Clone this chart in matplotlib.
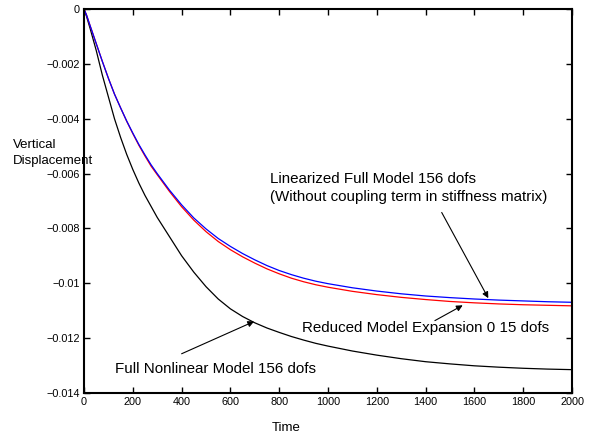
import numpy as np
import matplotlib.pyplot as plt

plt.rcParams['font.family'] = ['Liberation Sans', 'DejaVu Sans']
plt.rcParams['axes.unicode_minus'] = True

# values
time = [0, 10, 25, 50, 75, 100, 125, 150, 175, 200, 225, 250, 275, 300,
        350, 400, 450, 500, 550, 600, 650, 700, 750, 800, 850, 900, 950, 1000,
        1100, 1200, 1300, 1400, 1500, 1600, 1700, 1800, 1900, 2000]
full_nonlinear = [0, -0.00025, -0.0007, -0.0015, -0.0024, -0.0032, -0.0040, -0.00468,
                  -0.0053, -0.00585, -0.00635, -0.0068, -0.0072, -0.0076,
                  -0.0083, -0.0090, -0.0096, -0.01013, -0.01058, -0.01094, -0.01122,
                  -0.01145, -0.01164, -0.0118, -0.01195, -0.01208, -0.0122, -0.0123,
                  -0.01248, -0.01263, -0.01276, -0.01287, -0.01295, -0.01302, -0.01307,
                  -0.01311, -0.01314, -0.01316]
linearized = [0, -0.0002, -0.0006, -0.00125, -0.0019, -0.00252, -0.0031, -0.0036,
              -0.00408, -0.00452, -0.00494, -0.00532, -0.00568, -0.006,
              -0.0066, -0.00714, -0.00762, -0.00802, -0.00837, -0.00866, -0.00892,
              -0.00915, -0.00936, -0.00954, -0.00969, -0.00982, -0.00993, -0.01002,
              -0.01017, -0.01029, -0.01039, -0.01047, -0.01053, -0.01058, -0.01062,
              -0.01065, -0.01068, -0.0107]
reduced = [0, -0.0002, -0.0006, -0.00125, -0.0019, -0.00252, -0.0031, -0.0036,
           -0.00409, -0.00454, -0.00497, -0.00536, -0.00573, -0.00604,
           -0.00665, -0.00721, -0.0077, -0.00812, -0.00848, -0.00878, -0.00904,
           -0.00927, -0.00948, -0.00966, -0.00982, -0.00995, -0.01006, -0.01015,
           -0.0103, -0.01042, -0.01052, -0.0106, -0.01067, -0.01072, -0.01076,
           -0.01079, -0.01081, -0.01083]

xticks = [0, 200, 400, 600, 800, 1000, 1200, 1400, 1600, 1800, 2000]
yticks = [0, -0.002, -0.004, -0.006, -0.008, -0.01, -0.012, -0.014]
ytick_labels = ['0', '\u22120.002', '\u22120.004', '\u22120.006', '\u22120.008',
                '\u22120.01', '\u22120.012', '\u22120.014']

fig = plt.figure(figsize=(5.9, 4.37), dpi=100)
ax = fig.add_axes([0.1424, 0.1015, 0.8271, 0.8772])

ax.plot(time, full_nonlinear, color='black', lw=0.9)
ax.plot(time, reduced, color='red', lw=0.9)
ax.plot(time, linearized, color='blue', lw=0.9)

ax.set_xlim(0, 2000)
ax.set_ylim(-0.014, 0)
ax.set_xticks(xticks)
ax.set_xticklabels([str(t) for t in xticks])
ax.set_yticks(yticks)
ax.set_yticklabels(ytick_labels)
ax.tick_params(direction='in', top=True, right=True, labelsize=7.8,
               length=4, width=1, pad=3)
for s in ax.spines.values():
    s.set_linewidth(1.5)

# texte + fleches
ax.text(762, -0.00652, 'Linearized Full Model 156 dofs\n(Without coupling term in stiffness matrix)',
        fontsize=10.9, ha='left', va='center', linespacing=1.33)
ax.text(892, -0.01163, 'Reduced Model Expansion 0 15 dofs',
        fontsize=10.9, ha='left', va='center')
ax.text(125, -0.01314, 'Full Nonlinear Model 156 dofs',
        fontsize=10.9, ha='left', va='center')

arrow = dict(arrowstyle='-|>', color='black', lw=0.8, mutation_scale=9,
             shrinkA=0, shrinkB=0)
ax.annotate('', xy=(1657, -0.01055), xytext=(1466, -0.00742), arrowprops=arrow)
ax.annotate('', xy=(1552, -0.01081), xytext=(1438, -0.01137), arrowprops=arrow)
ax.annotate('', xy=(697, -0.0114), xytext=(400, -0.01258), arrowprops=arrow)

fig.text(13 / 590, 1 - 153 / 437, 'Vertical\nDisplacement', fontsize=9.5,
         ha='left', va='center', linespacing=1.55)
fig.text(286 / 590, 1 - 428 / 437, 'Time', fontsize=9.5, ha='center', va='center')

plt.savefig('out.png', dpi=100)
plt.close()
